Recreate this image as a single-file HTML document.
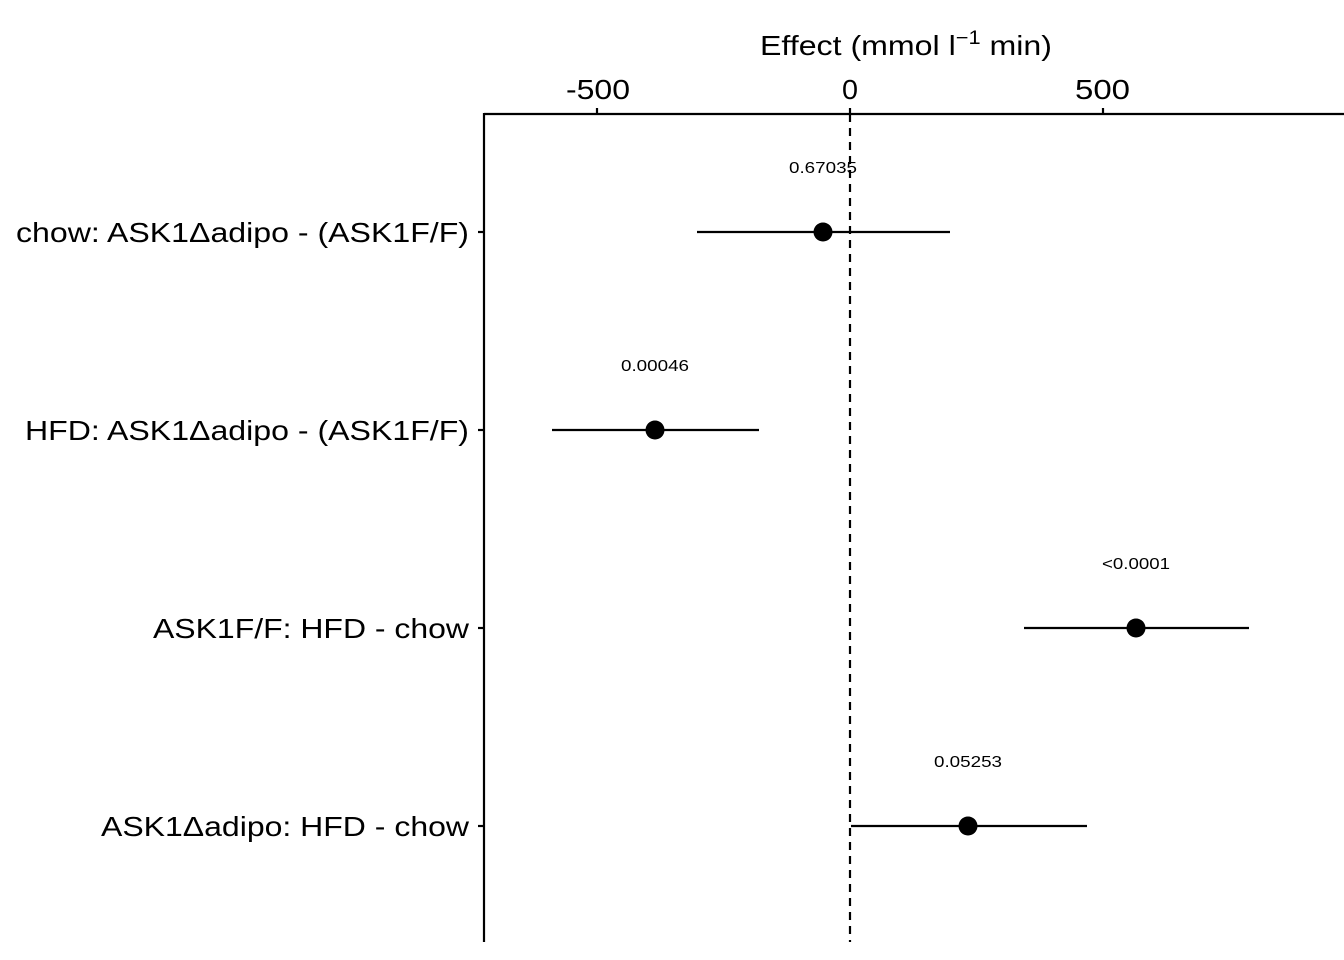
<!DOCTYPE html>
<html><head><meta charset="utf-8"><style>body{margin:0;background:#fff}svg{display:block}</style></head><body>
<svg width="1344" height="960" xmlns="http://www.w3.org/2000/svg" font-family="Liberation Sans, Arial, sans-serif">
<rect width="1344" height="960" fill="#fff"/>
<text x="760" y="55" font-size="28" textLength="292" lengthAdjust="spacingAndGlyphs">Effect (mmol l<tspan font-size="19" dy="-11">−1</tspan><tspan dy="11"> min)</tspan></text>
<g font-size="28">
<text x="566" y="99" textLength="64" lengthAdjust="spacingAndGlyphs">-500</text><text x="842" y="99" textLength="16" lengthAdjust="spacingAndGlyphs">0</text><text x="1075" y="99" textLength="55" lengthAdjust="spacingAndGlyphs">500</text>
</g>
<g stroke="#000" stroke-width="2.2">
<line x1="484" y1="114" x2="1344" y2="114"/>
<line x1="484" y1="113" x2="484" y2="942"/>
<line x1="597" y1="108" x2="597" y2="114"/><line x1="850" y1="108" x2="850" y2="114"/><line x1="1103" y1="108" x2="1103" y2="114"/>
<line x1="478" y1="232" x2="484" y2="232"/><line x1="478" y1="430" x2="484" y2="430"/><line x1="478" y1="628" x2="484" y2="628"/><line x1="478" y1="826" x2="484" y2="826"/>
<line x1="850" y1="114" x2="850" y2="942" stroke-dasharray="8,6"/>
<line x1="697" y1="232" x2="950" y2="232"/>
<line x1="552" y1="430" x2="759" y2="430"/>
<line x1="1024" y1="628" x2="1249" y2="628"/>
<line x1="851" y1="826" x2="1087" y2="826"/>
</g>
<g fill="#000"><circle cx="823" cy="232" r="9.5"/><circle cx="655" cy="430" r="9.5"/><circle cx="1136" cy="628" r="9.5"/><circle cx="968" cy="826" r="9.5"/></g>
<g font-size="28">
<text x="16" y="242" textLength="453" lengthAdjust="spacingAndGlyphs">chow: ASK1Δadipo - (ASK1F/F)</text>
<text x="25" y="440" textLength="444" lengthAdjust="spacingAndGlyphs">HFD: ASK1Δadipo - (ASK1F/F)</text>
<text x="153" y="638" textLength="316" lengthAdjust="spacingAndGlyphs">ASK1F/F: HFD - chow</text>
<text x="101" y="836" textLength="368" lengthAdjust="spacingAndGlyphs">ASK1Δadipo: HFD - chow</text>
</g>
<g font-size="16">
<text x="789" y="173" textLength="68" lengthAdjust="spacingAndGlyphs">0.67035</text><text x="621" y="371" textLength="68" lengthAdjust="spacingAndGlyphs">0.00046</text><text x="1102" y="569" textLength="68" lengthAdjust="spacingAndGlyphs">&lt;0.0001</text><text x="934" y="767" textLength="68" lengthAdjust="spacingAndGlyphs">0.05253</text>
</g>
</svg>
</body></html>
